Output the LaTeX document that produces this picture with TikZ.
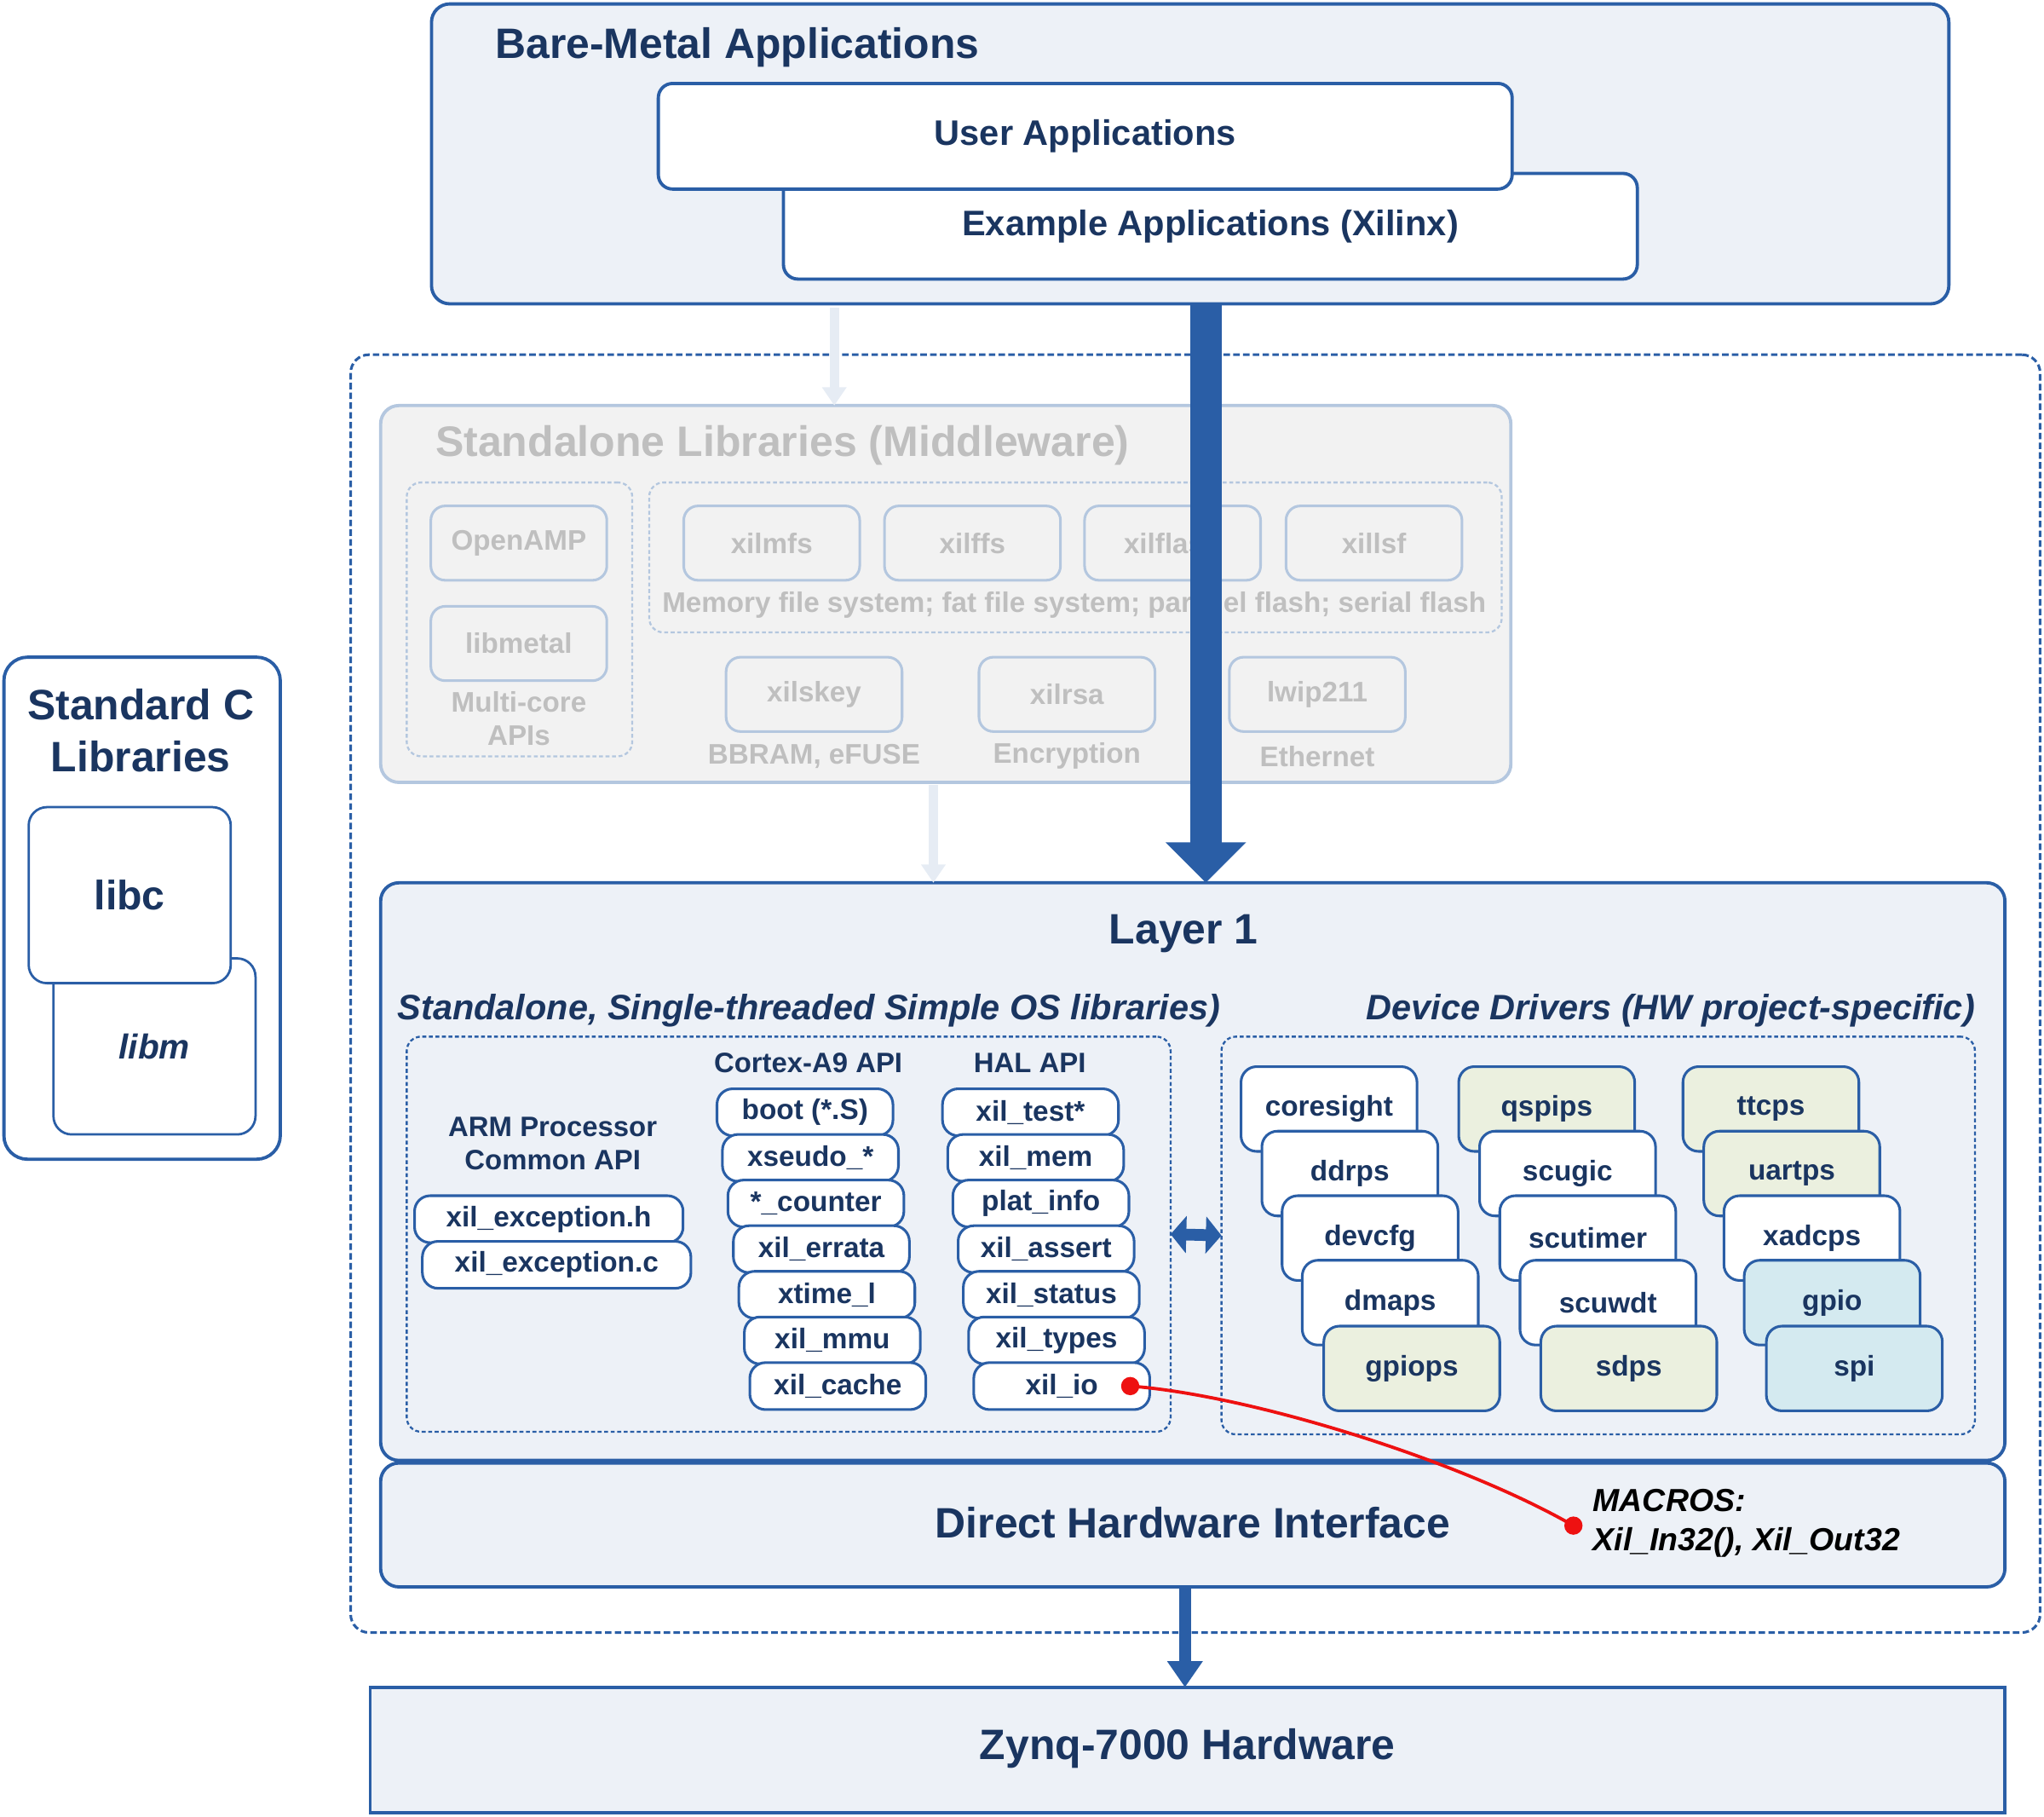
\documentclass[tikz,border=0pt]{standalone}
\usepackage{fontspec}
\setmainfont{Liberation Sans}
\usetikzlibrary{arrows.meta}
\definecolor{navy}{HTML}{1A3560}
\definecolor{bblue}{HTML}{2A5EA6}
\definecolor{lfill}{HTML}{EDF1F7}
\definecolor{mwfill}{HTML}{F2F2F2}
\definecolor{mwline}{HTML}{B4C7DF}
\definecolor{mwtext}{HTML}{BFBFBF}
\definecolor{palearrow}{HTML}{E6ECF4}
\definecolor{gfill}{HTML}{EBF0DF}
\definecolor{cfill}{HTML}{D4EAF0}
\definecolor{rdot}{HTML}{EE1111}
\begin{document}
\begin{tikzpicture}[x=1pt,y=-1pt,
  every node/.style={inner sep=0pt,outer sep=0pt},
  frame/.style={draw=bblue,line width=2.5pt,fill=lfill,rounded corners=14pt},
  titletxt/.style={text=navy,font=\fontsize{32.6}{39}\selectfont\bfseries},
  subtxt/.style={text=navy,font=\fontsize{27.1}{32}\selectfont\bfseries\itshape},
  appbox/.style={draw=bblue,line width=2.5pt,fill=white,rounded corners=11pt,text=navy,
    font=\fontsize{27.2}{32}\selectfont\bfseries,minimum width=655pt,minimum height=81pt},
  mwbox/.style={draw=mwline,line width=2pt,fill=mwfill,rounded corners=11pt,text=mwtext,
    font=\fontsize{21.7}{25}\selectfont\bfseries,minimum width=135pt,minimum height=57pt},
  mwtxt/.style={text=mwtext,font=\fontsize{21.7}{25}\selectfont\bfseries,align=center},
  mwdots/.style={draw=mwline,line width=1.5pt,dash pattern=on 3pt off 2pt,rounded corners=11pt},
  ldots/.style={draw=bblue,line width=1.5pt,dash pattern=on 3pt off 2pt,rounded corners=11pt},
  sbox/.style={draw=bblue,line width=2pt,fill=white,rounded corners=12pt,text=navy,
    font=\fontsize{21.8}{25}\selectfont\bfseries,minimum width=135pt,minimum height=36pt},
  dbox/.style={draw=bblue,line width=2pt,fill=white,rounded corners=12pt,text=navy,
    font=\fontsize{21.8}{25}\selectfont\bfseries,minimum width=135pt,minimum height=65pt},
  lbltxt/.style={text=navy,font=\fontsize{21.5}{26}\selectfont\bfseries,align=center},
  palearr/.style={draw=palearrow,line width=7pt,-{Triangle[width=18pt,length=14pt]}},
  bigarr/.style={draw=bblue,line width=24pt,-{Triangle[width=60pt,length=31pt]}},
  smallarr/.style={draw=bblue,line width=9pt,-{Triangle[width=26pt,length=20pt]}},
  dblarr/.style={draw=bblue,line width=9pt,{Triangle[width=28pt,length=12pt]}-{Triangle[width=28pt,length=12pt]}},
  redcurve/.style={draw=rdot,line width=2.5pt}
]
\useasboundingbox (0,0) rectangle (1568,1393);

% ---------- Standard C libraries ----------
\node[draw=bblue,line width=2.5pt,fill=white,rounded corners=18pt,minimum width=212pt,minimum height=385pt] (stdc) at (109,696.5) {};
\node[titletxt,align=center,font=\fontsize{32.6}{40}\selectfont\bfseries] (stdct) at (108,560) {Standard C\\Libraries};
\node[draw=bblue,line width=1.8pt,fill=white,rounded corners=14pt,minimum width=155pt,minimum height=135pt,
  text=navy,font=\fontsize{26.5}{31}\selectfont\bfseries\itshape] (libm) at (118.5,802.5) {libm};
\node[draw=bblue,line width=1.8pt,fill=white,rounded corners=14pt,minimum width=155pt,minimum height=135pt,
  text=navy,font=\fontsize{31.5}{36}\selectfont\bfseries] (libc) at (99.5,686.5) {libc};

% ---------- Bare-metal applications ----------
\node[frame,minimum width=1164pt,minimum height=230pt] (bm) at (913,118) {};
\node[titletxt,anchor=base west] (bmt) at (380,45) {Bare-Metal Applications};
\node[appbox] (exapp) at (928.5,173.5) {Example Applications (Xilinx)};
\node[appbox] (usrapp) at (832.5,104.5) {User Applications};

% ---------- outer dashed region ----------
\node[draw=bblue,line width=2pt,dash pattern=on 5pt off 2.5pt,rounded corners=14pt,minimum width=1296pt,minimum height=980pt] (outer) at (917,762) {};

% pale arrows
\coordinate (pa1) at (640,236);
\coordinate (pa2) at (716,602);

% ---------- Middleware ----------
\node[draw=mwline,line width=2.5pt,fill=mwfill,rounded corners=14pt,minimum width=867pt,minimum height=289pt] (mw) at (725.5,455.5) {};
\draw[palearr] (pa1) -- (pa1 |- mw.north);
\node[anchor=base west,text=mwtext,font=\fontsize{32.7}{39}\selectfont\bfseries] (mwt) at (334,350) {Standalone Libraries (Middleware)};
\node[mwdots,minimum width=173pt,minimum height=210pt] (mwl) at (398.5,475) {};
\node[mwdots,minimum width=654pt,minimum height=115pt] (mwr) at (825,427.5) {};
\node[mwbox] (openamp) at (398,416.5) {OpenAMP};
\node[mwbox] (libmetal) at (398,493.5) {libmetal};
\node[mwtxt] (mcapi) at (398,551) {Multi-core\\APIs};
\node[mwbox] (xilmfs) at (592,416.5) {xilmfs};
\node[mwbox] (xilffs) at (746,416.5) {xilffs};
\node[mwbox] (xilflash) at (899.5,416.5) {xilflash};
\node[mwbox] (xillsf) at (1054,416.5) {xillsf};
\node[mwtxt] (memtxt) at (824,464) {Memory file system; fat file system; parallel flash; serial flash};
\node[mwbox] (xilskey) at (624.5,532.5) {xilskey};
\node[mwbox] (xilrsa) at (818.5,532.5) {xilrsa};
\node[mwbox] (lwip) at (1010.5,532.5) {lwip211};
\node[mwtxt] (bbram) at (624.5,580) {BBRAM, eFUSE};
\node[mwtxt] (encr) at (818.5,580) {Encryption};
\node[mwtxt] (eth) at (1010.5,580) {Ethernet};

% ---------- Layer 1 ----------
\node[frame,minimum width=1246pt,minimum height=443pt] (layer1) at (915,898.5) {};
\draw[palearr] (pa2) -- (pa2 |- layer1.north);
\node[titletxt] (l1t) at (908,716) {Layer 1};
\node[subtxt,anchor=base west] (sst) at (305,782) {Standalone, Single-threaded Simple OS libraries)};
\node[subtxt,anchor=base east] (ddt) at (1515,782) {Device Drivers (HW project-specific)};
\node[ldots,minimum width=586pt,minimum height=303pt] (l1l) at (605,946.5) {};
\node[ldots,minimum width=578pt,minimum height=305pt] (l1r) at (1226,947.5) {};
\draw[dblarr] (l1l.east) -- (l1r.west);

\node[lbltxt] (armapi) at (424,877) {ARM Processor\\Common API};
\node[lbltxt] (cortt) at (620,815) {Cortex-A9 API};
\node[lbltxt] (halt) at (790,815) {HAL API};
\node[sbox,minimum width=206pt] (exch) at (421,935) {xil\_exception.h};
\node[sbox,minimum width=206pt] (excc) at (427,970) {xil\_exception.c};

\foreach \t [count=\i from 0] in {boot (*.S),xseudo\_*,*\_counter,xil\_errata,xtime\_l,xil\_mmu,xil\_cache}
  \node[sbox] (cx\i) at ({617.5+4.2*\i},{853+35*\i}) {\t};
\foreach \t [count=\i from 0] in {xil\_test*,xil\_mem,plat\_info,xil\_assert,xil\_status,xil\_types,xil\_io}
  \node[sbox] (hal\i) at ({790.5+4*\i},{853+35*\i}) {\t};

% device drivers
\node[dbox] (coresight) at (1019.5,850.5) {coresight};
\node[dbox] (ddrps) at (1035.5,900) {ddrps};
\node[dbox] (devcfg) at (1051,949.5) {devcfg};
\node[dbox] (dmaps) at (1066.5,999) {dmaps};
\node[dbox,fill=gfill] (gpiops) at (1083,1049.5) {gpiops};
\node[dbox,fill=gfill] (qspips) at (1186.5,850.5) {qspips};
\node[dbox] (scugic) at (1202.5,900) {scugic};
\node[dbox] (scutimer) at (1218,949.5) {scutimer};
\node[dbox] (scuwdt) at (1233.5,999) {scuwdt};
\node[dbox,fill=gfill] (sdps) at (1249.5,1049.5) {sdps};
\node[dbox,fill=gfill] (ttcps) at (1358.5,850.5) {ttcps};
\node[dbox,fill=gfill] (uartps) at (1374.5,900) {uartps};
\node[dbox] (xadcps) at (1390,949.5) {xadcps};
\node[dbox,fill=cfill] (gpio) at (1405.5,999) {gpio};
\node[dbox,fill=cfill] (spi) at (1422.5,1049.5) {spi};

% ---------- Direct hardware interface ----------
\node[frame,minimum width=1246pt,minimum height=95pt] (dhi) at (915,1169.5) {};
\node[titletxt] (dhit) at (915,1168) {Direct Hardware Interface};
\node[anchor=west,align=left,text=black,font=\fontsize{24.5}{30}\selectfont\bfseries\itshape] (macros) at (1222,1168) {MACROS:\\Xil\_In32(), Xil\_Out32};

% red link
\coordinate (d1) at ([xshift=-15pt]hal6.east);
\coordinate (d2) at ([xshift=-15pt,yshift=-2pt]macros.west);
\draw[redcurve] (d1) .. controls (960,1070) and (1120,1120) .. (d2);
\fill[rdot] (d1) circle (7pt);
\fill[rdot] (d2) circle (7pt);

% ---------- Zynq hardware ----------
\node[draw=bblue,line width=2.5pt,fill=lfill,minimum width=1254pt,minimum height=96pt] (zynq) at (911,1342) {};
\node[titletxt] (zynqt) at (911,1341) {Zynq-7000 Hardware};
\coordinate (la) at (909,1217);
\draw[smallarr] (la) -- (la |- zynq.north);

% ---------- big arrow ----------
\coordinate (ba) at (925,233);
\draw[bigarr] (ba) -- (ba |- layer1.north);
\end{tikzpicture}
\end{document}
